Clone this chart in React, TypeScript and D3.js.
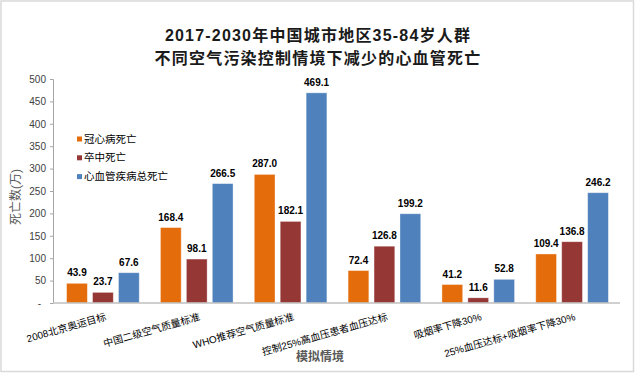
import React, { useRef, useEffect } from "react"
import * as d3 from "d3"

const categories = [
  "2008北京奥运目标",
  "中国二级空气质量标准",
  "WHO推荐空气质量标准",
  "控制25%高血压患者血压达标",
  "吸烟率下降30%",
  "25%血压达标+吸烟率下降30%",
]
const seriesNames = ["冠心病死亡", "卒中死亡", "心血管疾病总死亡"]
const chdDeaths = [43.9, 168.4, 287.0, 72.4, 41.2, 109.4]
const strokeDeaths = [23.7, 98.1, 182.1, 126.8, 11.6, 136.8]
const totalDeaths = [67.6, 266.5, 469.1, 199.2, 52.8, 246.2]
const yTicks = [0, 50, 100, 150, 200, 250, 300, 350, 400, 450, 500]
const titleLines = ["2017-2030年中国城市地区35-84岁人群", "不同空气污染控制情境下减少的心血管死亡"]

const colors = ["#E46C0A", "#953735", "#4F81BD"]
const font = "'Liberation Sans', Arial, 'Noto Sans CJK SC', sans-serif"

const W = 635
const H = 373
const margin = { top: 79, left: 56, right: 16, bottom: 70 }

const App: React.FC = () => {
  const yAxisRef = useRef<SVGGElement>(null)

  const series = [chdDeaths, strokeDeaths, totalDeaths]

  const x0 = d3.scaleBand<string>()
    .domain(categories)
    .range([margin.left, W - margin.right])
    .paddingInner(0.226)
    .paddingOuter(0.113)

  const x1 = d3.scaleBand<number>()
    .domain([0, 1, 2])
    .range([0, x0.bandwidth()])
    .paddingInner(0.2)

  const y = d3.scaleLinear()
    .domain([0, 500])
    .range([H - margin.bottom, margin.top])

  useEffect(() => {
    const g = d3.select(yAxisRef.current)
    g.selectAll("*").remove()
    g.call(
      d3.axisLeft(y)
        .tickValues(yTicks)
        .tickSize(3)
        .tickPadding(4)
        .tickFormat(d => (+d === 0 ? "-" : String(d)))
    )
    g.select(".domain").attr("stroke", "#a6a6a6")
    g.selectAll(".tick line").attr("stroke", "#a6a6a6")
    g.selectAll(".tick text")
      .attr("fill", "#404040")
      .style("font-family", font)
      .style("font-size", "10px")
      .attr("dx", (d: any) => (+d === 0 ? -5 : 0))
  }, [])

  const y0 = y(0)

  return (
    <svg width={W} height={H} style={{ position: "absolute", left: 0, top: 0, background: "#fff" }}>
      <rect x={1} y={1} width={W - 2.5} height={H - 2.5} fill="#fff" stroke="#d9d9d9" strokeWidth={1.5} />

      {titleLines.map((t, i) => (
        <text key={i} x={318} y={41 + i * 23} textAnchor="middle" fontFamily={font}
          fontWeight="bold" fontSize={16} letterSpacing={1.2} fill="#1a1a1a">{t}</text>
      ))}

      {categories.map((c, i) => (
        <g key={c} transform={`translate(${x0(c)},0)`}>
          {series.map((s, j) => {
            const v = s[i]
            const bx = x1(j)!
            return (
              <g key={j}>
                <rect x={bx} y={y(v)} width={x1.bandwidth()} height={y0 - y(v)}
                  fill={colors[j]} stroke="#ffffff" strokeOpacity={0.45} strokeWidth={0.8} />
                <text x={bx + x1.bandwidth() / 2} y={y(v) - 7} textAnchor="middle"
                  fontFamily={font} fontWeight="bold" fontSize={10} fill="#000">{v.toFixed(1)}</text>
              </g>
            )
          })}
        </g>
      ))}

      <g ref={yAxisRef} transform={`translate(${margin.left - 3},0)`} />
      <line x1={margin.left - 3} x2={W - 15} y1={y0} y2={y0} stroke="#bfbfbf" strokeWidth={1.5} />

      {categories.map(c => (
        <text key={c} transform={`translate(${x0(c)! + x0.bandwidth() / 2 + 2},${y0 + 10}) rotate(-16)`}
          textAnchor="end" dy="0.7em" fontFamily={font} fontSize={10} fill="#000">{c}</text>
      ))}

      {seriesNames.map((n, i) => (
        <g key={n} transform={`translate(77,${139 + i * 18.8})`}>
          <rect x={0} y={-2.5} width={5} height={5} fill={colors[i]} />
          <text x={7} y={0} dy="0.35em" fontFamily={font} fontSize={10.5} fill="#000">{n}</text>
        </g>
      ))}

      <text transform="translate(20,197) rotate(-90)" textAnchor="middle" fontFamily={font}
        fontSize={12} fill="#595959">死亡数(万)</text>
      <text x={320} y={361} textAnchor="middle" fontFamily={font} fontSize={12}
        fontWeight="bold" fill="#595959">模拟情境</text>
    </svg>
  )
}

export default App
